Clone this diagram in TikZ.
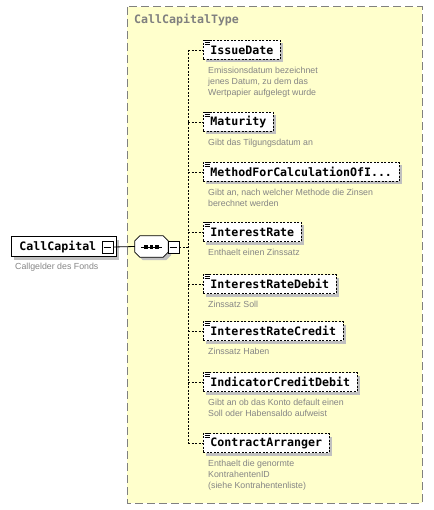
\documentclass[tikz,border=0pt]{standalone}
\usepackage{fontspec}
\usetikzlibrary{shadows}
\newfontfamily\monofam{DejaVu Sans Mono}
\newfontfamily\descfam{Liberation Sans}
\definecolor{typebg}{HTML}{FFFFCC}
\definecolor{typeborder}{HTML}{808080}
\definecolor{desctext}{HTML}{858585}
\definecolor{shadowgray}{HTML}{C0C0C0}
\tikzset{
  elembox/.style={draw, dash pattern=on 2pt off 1.5pt, fill=white, line width=0.8pt,
    font=\monofam\bfseries\fontsize{11.6}{13}\selectfont, inner xsep=7pt,
    minimum height=19pt, anchor=west,
    drop shadow={shadow xshift=3pt, shadow yshift=-3pt, fill=shadowgray, opacity=1}},
  rootbox/.style={draw, line width=0.8pt, fill=white,
    font=\monofam\bfseries\fontsize{11.6}{13}\selectfont,
    minimum height=20pt, minimum width=97pt, inner xsep=8pt, anchor=west, align=left,
    drop shadow={shadow xshift=3pt, shadow yshift=-3pt, fill=shadowgray, opacity=1}},
  minusbox/.style={draw, line width=0.8pt, fill=white, minimum width=11pt, minimum height=12pt, inner sep=0pt},
  desc/.style={font=\descfam\fontsize{8.8}{11}\selectfont, text=desctext, align=left, anchor=north west, inner sep=0pt},
  conn/.style={line width=0.8pt, dash pattern=on 2pt off 1.5pt},
  solidconn/.style={line width=0.8pt},
  seqbound/.style={minimum width=33pt, minimum height=21pt, inner sep=0pt},
}
\newcommand\octpath[1]{([xshift=5pt]#1.north west) -- ([xshift=-5pt]#1.north east) -- ([yshift=-5pt]#1.north east) -- ([yshift=5pt]#1.south east) -- ([xshift=-5pt]#1.south east) -- ([xshift=5pt]#1.south west) -- ([yshift=5pt]#1.south west) -- ([yshift=-5pt]#1.north west) -- cycle}
\newcommand\xsdelem[4]{%
  \node[elembox] (#1) at (203,#3) {#2};
  \draw[line width=0.7pt] ([xshift=1.5pt,yshift=-0.3pt]#1.north west) -- ++(5,0)
    ([xshift=1.5pt,yshift=-2.3pt]#1.north west) -- ++(5,0)
    ([xshift=1.5pt,yshift=-4.3pt]#1.north west) -- ++(5,0);
  \node[desc] (#1d) at (208,#3+17) {#4};
  \coordinate (#1t) at (188,#3);
  \draw[conn] (#1t) -- (#1.west);
}
\begin{document}
\begin{tikzpicture}[x=1pt,y=-1pt]
\useasboundingbox (0,0) rectangle (433,510);
% type container
\draw[typeborder, fill=typebg, line width=1pt, dash pattern=on 8pt off 4pt] (127,7) rectangle (422,503);
\node[anchor=west, inner sep=0pt, text=typeborder, font=\monofam\bfseries\fontsize{11.6}{13}\selectfont] (title) at (134,20) {CallCapitalType};
% root element
\node[rootbox] (root) at (11,246.5) {CallCapital\hspace{12pt}};
\node[minusbox] (rootm) at (107.5,247) {};
\draw[solidconn] ([xshift=2pt]rootm.west) -- ([xshift=-2pt]rootm.east);
\node[desc] (rootd) at (15,263) {Callgelder des Fonds};
% sequence compositor
\node[seqbound] (seq) at (151.5,246.5) {};
\node[seqbound] (seqsh) at (154.5,249.5) {};
\fill[shadowgray] \octpath{seqsh};
\filldraw[fill=white, line width=0.8pt] \octpath{seq};
\node[minusbox] (seqm) at (173.5,247) {};
\draw[solidconn] ([xshift=2pt]seqm.west) -- ([xshift=-2pt]seqm.east);
\coordinate (seqa) at (141,247);
\coordinate (seqb) at (162,247);
\draw[solidconn] (seqa) -- (seqb);
\foreach \dx in {146,151.5,157} \fill (\dx-1.6,245.4) rectangle (\dx+1.6,248.6);
\draw[solidconn] (rootm.east) -- (seq.west);
% elements
\xsdelem{issue}{IssueDate}{50}{Emissionsdatum bezeichnet\\jenes Datum, zu dem das\\Wertpapier aufgelegt wurde}
\xsdelem{mat}{Maturity}{122}{Gibt das Tilgungsdatum an}
\xsdelem{meth}{MethodForCalculationOfI...}{172}{Gibt an, nach welcher Methode die Zinsen\\berechnet werden}
\xsdelem{irate}{InterestRate}{232}{Enthaelt einen Zinssatz}
\xsdelem{idebit}{InterestRateDebit}{284}{Zinssatz Soll}
\xsdelem{icredit}{InterestRateCredit}{331}{Zinssatz Haben}
\xsdelem{indic}{IndicatorCreditDebit}{382}{Gibt an ob das Konto default einen\\Soll oder Habensaldo aufweist}
\xsdelem{contr}{ContractArranger}{443}{Enthaelt die genormte\\KontrahentenID\\(siehe Kontrahentenliste)}
% trunk
\coordinate (trunkmid) at (188,247);
\draw[conn] (issuet) -- (contrt);
\draw[conn] (seqm.east) -- (trunkmid);
\end{tikzpicture}
\end{document}
